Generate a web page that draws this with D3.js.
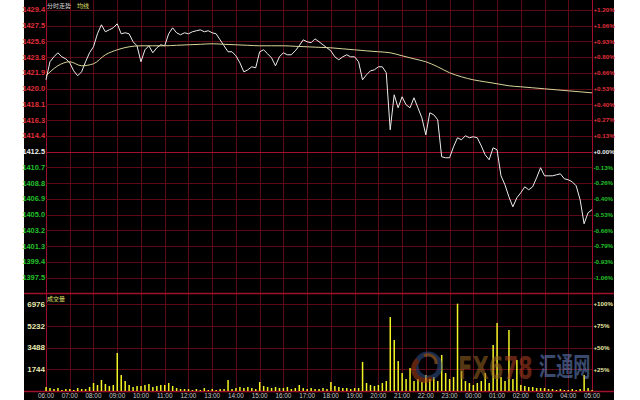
<!DOCTYPE html>
<html><head><meta charset="utf-8">
<script src="https://cdn.jsdelivr.net/npm/d3@7/dist/d3.min.js"></script>
<style>html,body{margin:0;padding:0;background:#fff;}svg{display:block;}</style>
</head><body><svg id="c" width="640" height="400"></svg>
<script>
// ---------- data ----------
const prevClose = 1412.5;
const priceStep = 1.875;
const priceTickLabels = ["1429.4","1427.5","1425.6","1423.8","1421.9","1420.0","1418.1","1416.3","1414.4","1412.5","1410.7","1408.8","1406.9","1405.0","1403.2","1401.3","1399.4","1397.5"];
const pctTickLabels = ["+1.20%","+1.06%","+0.93%","+0.80%","+0.66%","+0.53%","+0.40%","+0.27%","+0.13%","+0.00%","-0.13%","-0.26%","-0.40%","-0.53%","-0.66%","-0.79%","-0.93%","-1.06%"];
const volTickLabels = ["6976","5232","3488","1744"];
const volTickValues = [6976,5232,3488,1744];
const volPctLabels = ["+100%","+75%","+50%","+25%"];
const hourLabels = ["06:00","07:00","08:00","09:00","10:00","11:00","12:00","13:00","14:00","15:00","16:00","17:00","18:00","19:00","20:00","21:00","22:00","23:00","00:00","01:00","02:00","03:00","04:00","05:00"];
// price every 10 minutes from 06:00
const prices = [1421.04,1423.19,1423.78,1424.26,1423.78,1423.54,1423.07,1422.11,1421.52,1421.99,
1423.19,1424.26,1424.97,1426.52,1427.59,1426.76,1426.99,1427.23,1427.71,1426.52,
1426.64,1426.52,1425.57,1425.09,1423.19,1424.61,1425.09,1424.26,1424.85,1425.21,
1425.09,1426.52,1427.23,1426.64,1426.40,1426.64,1426.52,1426.76,1426.88,1426.99,
1426.76,1426.88,1426.64,1426.52,1425.80,1425.09,1424.38,1424.38,1423.90,1423.07,
1421.99,1422.23,1422.59,1422.47,1424.38,1424.61,1424.14,1423.66,1422.71,1423.78,
1424.26,1424.02,1424.02,1424.49,1425.09,1425.80,1425.57,1425.45,1425.92,1425.57,
1425.21,1424.85,1424.49,1423.78,1423.42,1423.78,1424.02,1423.78,1423.78,1423.19,
1421.04,1421.64,1422.11,1422.23,1422.59,1422.59,1421.88,1415.09,1419.26,1417.71,
1419.02,1418.07,1417.71,1418.90,1417.71,1416.52,1414.49,1417.11,1416.88,1416.28,
1411.88,1411.76,1411.76,1413.07,1414.14,1413.90,1414.38,1414.14,1414.26,1414.14,
1413.19,1412.11,1411.52,1412.95,1412.71,1409.61,1408.54,1407.11,1405.92,1406.99,
1407.59,1408.30,1407.95,1408.30,1409.38,1410.57,1409.61,1409.61,1409.61,1409.73,
1409.85,1409.26,1409.14,1408.90,1408.42,1406.76,1403.90,1405.21,1405.57];
// average line every 30 minutes from 06:00
const avgPrices = [1421.52,1422.71,1423.19,1422.71,1422.95,1424.02,1424.61,1424.97,1425.09,1425.09,
1425.09,1425.15,1425.21,1425.27,1425.33,1425.27,1425.21,1425.15,1425.09,1425.09,
1425.09,1425.03,1424.97,1424.91,1424.85,1424.73,1424.61,1424.49,1424.38,1424.26,
1423.90,1423.54,1423.19,1422.59,1421.88,1421.40,1421.04,1420.80,1420.57,1420.33,
1420.21,1420.09,1419.97,1419.85,1419.73,1419.61,1419.49];
// volume every 10 minutes from 06:00
const volumes = [320,240,160,240,80,160, 160,80,240,160,160,320, 640,480,880,560,400,480,
3050,1280,800,480,320,400, 400,480,560,320,400,480, 480,640,400,240,160,160,
160,80,160,80,240,80, 160,80,160,160,880,160, 240,320,240,320,240,160,
720,400,320,240,320,240, 240,320,160,240,480,240, 160,240,160,160,240,160,
720,400,320,240,240,160, 240,240,2330,640,480,400, 480,640,800,5930,4090,2400,
1440,960,1840,800,960,720, 1280,960,1120,800,2890,1440, 960,1120,7000,1600,800,640,
480,640,800,1440,640,3690, 5450,1120,800,4890,960,2490, 480,400,320,320,240,240,
240,160,160,80,160,80, 80,160,80,160,1280,240,80];

// ---------- layout ----------
const svg = d3.select("#c");
const L = 46, R = 592;
const yTop = 9.8, yBot = 293.3;
const vTop = 304, vBot = 391;
const gridC = "#5c0a16", borderC = "#a0102c";

svg.append("rect").attr("x",24).attr("y",0).attr("width",590).attr("height",400).attr("fill","#000");

const x = d3.scaleLinear().domain([0, 1380]).range([L, R]);
const y = d3.scaleLinear().domain([prevClose - 9*priceStep, prevClose + 9*priceStep]).range([yBot, yTop]);
const yv = d3.scaleLinear().domain([0, 6976]).range([vBot, vTop]);

const g = svg.append("g");
g.selectAll("line.vg").data(hourLabels).enter().append("line")
 .attr("x1",(d,i)=>Math.round(x(i*60))+0.5).attr("x2",(d,i)=>Math.round(x(i*60))+0.5).attr("y1",0).attr("y2",vBot)
 .attr("stroke",(d,i)=> (i===0||i===23)? borderC : gridC).attr("stroke-width",1);
g.selectAll("line.hg").data(priceTickLabels).enter().append("line")
 .attr("x1",L).attr("x2",R)
 .attr("y1",(d,i)=>Math.round(y(prevClose+(9-i)*priceStep))+0.5).attr("y2",(d,i)=>Math.round(y(prevClose+(9-i)*priceStep))+0.5)
 .attr("stroke",(d,i)=> i===9? borderC : gridC).attr("stroke-width",1);
[yBot, vBot].forEach(v=>{
  g.append("line").attr("x1",24).attr("x2",614).attr("y1",Math.round(v)+0.5).attr("y2",Math.round(v)+0.5).attr("stroke",borderC).attr("stroke-width",1.5);
});
g.selectAll("line.vgr").data(volTickValues).enter().append("line")
 .attr("x1",L).attr("x2",R).attr("y1",d=>Math.round(yv(d))+0.5).attr("y2",d=>Math.round(yv(d))+0.5)
 .attr("stroke",gridC).attr("stroke-width",1);

// axis labels
const fontF = "'Liberation Sans', Arial, sans-serif";
const colUp = "#e0303c", colDn = "#22c02a", colZero = "#f0f0f0";
g.selectAll("text.pl").data(priceTickLabels).enter().append("text")
 .attr("x",L-1).attr("y",(d,i)=>y(prevClose+(9-i)*priceStep)+2.6)
 .attr("text-anchor","end").attr("font-family",fontF).attr("font-size",7.4).attr("font-weight","bold")
 .attr("fill",(d,i)=> i<9?colUp:(i===9?colZero:colDn)).text(d=>d);
g.selectAll("text.pr").data(pctTickLabels).enter().append("text")
 .attr("x",R+1.5).attr("y",(d,i)=>y(prevClose+(9-i)*priceStep)+2.3)
 .attr("font-family",fontF).attr("font-size",6.2).attr("font-weight","bold")
 .attr("fill",(d,i)=> i<9?colUp:(i===9?colZero:colDn)).text(d=>d);
g.selectAll("text.vl").data(volTickLabels).enter().append("text")
 .attr("x",L-1).attr("y",(d,i)=>yv(volTickValues[i])+2.8)
 .attr("text-anchor","end").attr("font-family",fontF).attr("font-size",8).attr("font-weight","bold")
 .attr("fill","#e8e8b0").text(d=>d);
g.selectAll("text.vr").data(volPctLabels).enter().append("text")
 .attr("x",R+1.5).attr("y",(d,i)=>yv(volTickValues[i])+2.3)
 .attr("font-family",fontF).attr("font-size",6.2).attr("font-weight","bold")
 .attr("fill","#e8e8a0").text(d=>d);
g.selectAll("text.xl").data(hourLabels).enter().append("text")
 .attr("x",(d,i)=>x(i*60)).attr("y",398)
 .attr("text-anchor","middle").attr("font-family",fontF).attr("font-size",6.4)
 .attr("fill","#c8c8c8").text(d=>d);

// titles
const cjk = "'Noto Sans CJK SC', sans-serif";
svg.append("text").attr("x",47).attr("y",7.5).attr("font-family",cjk).attr("font-size",6).attr("fill","#d8d8d8").text("分时走势");
svg.append("text").attr("x",77).attr("y",7.5).attr("font-family",cjk).attr("font-size",6).attr("fill","#e0e070").text("均线");
svg.append("text").attr("x",47).attr("y",300.5).attr("font-family",cjk).attr("font-size",6).attr("fill","#e0e070").text("成交量");

// volume bars
svg.append("g").selectAll("rect").data(volumes).enter().append("rect")
 .attr("x",(d,i)=>x(i*10)-0.7).attr("width",1.5)
 .attr("y",d=>yv(d)).attr("height",d=>vBot-yv(d))
 .attr("fill","#f4f424");

// watermark
const wm = svg.append("g").attr("opacity",0.55);
wm.append("circle").attr("cx",428).attr("cy",366).attr("r",12).attr("fill","none").attr("stroke","#34508a").attr("stroke-width",5);
wm.append("path").attr("d","M418,360 A11,11 0 0 0 432,378").attr("fill","none").attr("stroke","#b04018").attr("stroke-width",5);
wm.append("path").attr("d","M424,356 A8,8 0 0 1 436,364").attr("fill","none").attr("stroke","#c07830").attr("stroke-width",3);
const fx = wm.append("text").attr("transform","translate(458,379) scale(0.66,1)")
 .attr("font-family","'DejaVu Sans', sans-serif").attr("font-weight","bold").attr("font-size",32);
fx.append("tspan").attr("fill","#9a6424").text("FX6");
fx.append("tspan").attr("fill","#b04024").text("78");
wm.append("text").attr("transform","translate(539,376) scale(0.66,1)")
 .attr("font-family",cjk).attr("font-weight","bold").attr("font-size",26).attr("fill","#6888c8").text("汇通网");

// price lines
const lineP = d3.line().x((d,i)=>x(i*10)).y(d=>y(d));
svg.append("path").datum(prices).attr("d",lineP).attr("fill","none").attr("stroke","#ececec").attr("stroke-width",1);
const lineA = d3.line().x((d,i)=>x(i*30)).y(d=>y(d)).curve(d3.curveMonotoneX);
svg.append("path").datum(avgPrices).attr("d",lineA).attr("fill","none").attr("stroke","#d8d49a").attr("stroke-width",1);
</script></body></html>
